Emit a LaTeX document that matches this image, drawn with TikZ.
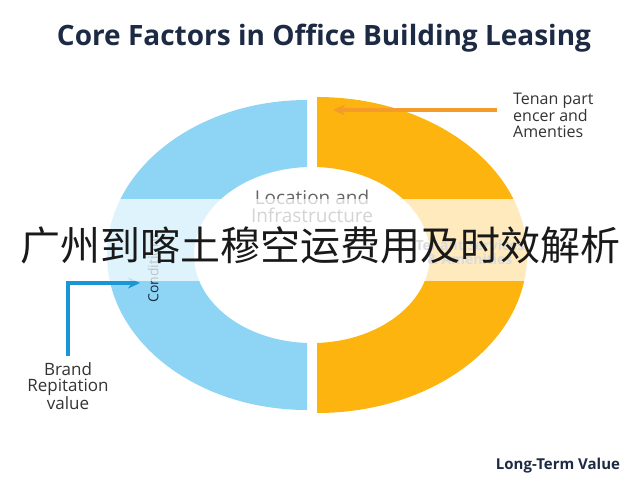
\documentclass[tikz,border=0pt]{standalone}
\usepackage{fontspec}
\setmainfont{Open Sans}
\newfontfamily\cjkfont{Noto Sans CJK SC}
\usetikzlibrary{arrows.meta}
\definecolor{ringBlue}{HTML}{8ED4F5}
\definecolor{ringOrange}{HTML}{FDB40F}
\definecolor{arrowOrange}{HTML}{F59B2B}
\definecolor{arrowBlue}{HTML}{1A96D6}
\definecolor{titleNavy}{HTML}{1C2A44}
\definecolor{labelGray}{HTML}{4A4A4A}

\begin{document}
\begin{tikzpicture}[x=1pt,y=-1pt,%%
  ringStyle/.style={even odd rule},%%
  labelStyle/.style={inner sep=0pt,align=center,text=labelGray,font=\fontsize{16}{16}\selectfont},%%
  arrowStyle/.style={-{Stealth[length=12pt,width=11pt]},line width=3.2pt}%%
]
%%
\useasboundingbox (0,0) rectangle (640,480);
%%
\pgfmathsetmacro{\cy}{255}
%%
\coordinate (BlueCenter) at (307,\cy);
\coordinate (OrangeCenter) at (317,\cy);
\coordinate (HoleCenter) at (312,\cy);
\coordinate (TenantTail) at (497,110);
\coordinate (TenantTip) at (333,110);
\coordinate (ConditionTip) at (140,283);
%%
%%
%% Draw the ring.
%% Left half, blue.
\begin{scope}
  \clip (0,0) rectangle (307,480);
  \fill[ringBlue,ringStyle] (BlueCenter) ellipse [x radius=200pt,y radius=155pt]
    (HoleCenter) ellipse [x radius=118pt,y radius=88pt];
\end{scope}
%% Right half, orange.
\begin{scope}
  \clip (317,0) rectangle (640,480);
  \fill[ringOrange,ringStyle] (OrangeCenter) ellipse [x radius=210pt,y radius=158pt]
    (HoleCenter) ellipse [x radius=118pt,y radius=88pt];
\end{scope}
%%
%% Labels of the ring.
\node (Title) at (324,38) [inner sep=0pt,text=titleNavy,font=\fontsize{28}{32}\selectfont\bfseries] {Core Factors in Office Building Leasing};
\node (Location) at (312,206) [labelStyle,text=labelGray!85,font=\fontsize{19}{18}\selectfont] {Location and\\Infrastructure};
\node (Tenant) at (470,252) [labelStyle,text=labelGray!70,font=\fontsize{14}{14}\selectfont\bfseries] {Tenant Services\\\& Amenities};
\node (Condition) at (153,303) [labelStyle,anchor=west,rotate=90,text=titleNavy,font=\fontsize{14}{14}\selectfont] {Conditions};
\node (TenantNote) at (513,93) [labelStyle,anchor=north west,align=left,text=black!80,font=\fontsize{16}{15.5}\selectfont] {Tenan part\\encer and\\Amenties};
\node (Brand) at (68,386) [labelStyle,text=black!80,font=\fontsize{17}{16}\selectfont] {Brand\\Repitation\\value};
\node (LongTerm) at (558,466) [inner sep=0pt,text=titleNavy,font=\fontsize{15}{17}\selectfont\bfseries] {Long-Term Value};
%%
%% Arrows to the ring.
\draw[arrowStyle,arrowOrange] (TenantTail) -- (TenantTip);
\draw[arrowStyle,arrowBlue] ([yshift=6pt]Brand.north) |- (ConditionTip);
%%
%% Band with the heading over it.
\fill[white,opacity=0.72] (0,199) rectangle (640,281);
\node (Heading) at (320,245) [inner sep=0pt,text=black!90,font=\cjkfont\fontsize{40}{44}\selectfont] {广州到喀土穆空运费用及时效解析};
\end{tikzpicture}
\end{document}
